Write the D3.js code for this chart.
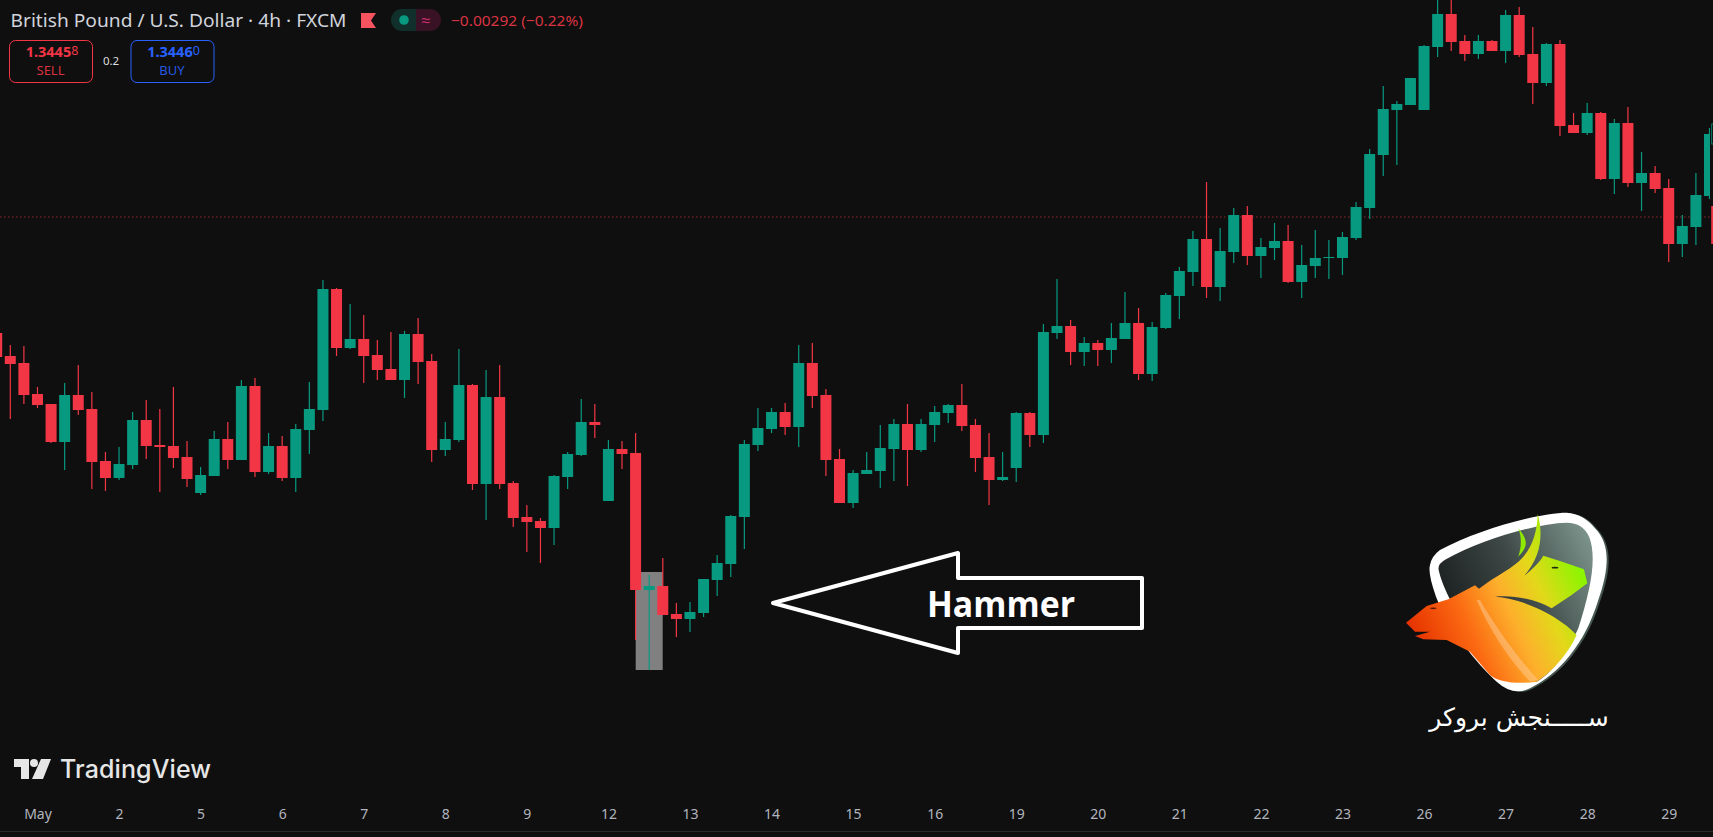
<!DOCTYPE html>
<html>
<head>
<meta charset="utf-8">
<style>
  html, body { margin: 0; padding: 0; background: #0f0f0f; overflow: hidden; }
  svg { display: block; }
  text { font-family: "Noto Sans", sans-serif; }
</style>
<script src="https://cdn.jsdelivr.net/npm/d3@7"></script>
</head>
<body>
<div id="chart"></div>
<script>
// GBP/USD 4h candles, left to right
const opens = [
  1.33638,1.33477,1.33428,1.33211,1.33141,1.32875,1.33204,1.33106,1.32742,1.32623,
  1.32714,1.33029,1.32854,1.32847,1.32770,1.32518,1.32637,1.32896,1.32749,1.33267,
  1.32665,1.32847,1.32623,1.32959,1.33099,1.33946,1.33533,1.33596,1.33484,1.33386,
  1.33309,1.33631,1.33442,1.32819,1.32889,1.33274,1.32581,1.33190,1.32588,1.32350,
  1.32322,1.32273,1.32630,1.32784,1.33015,1.32462,1.32826,1.32798,1.31839,1.31867,
  1.31671,1.31636,1.31678,1.31909,1.32021,1.32350,1.32854,1.32966,1.33085,1.32980,
  1.33428,1.33204,1.32756,1.32448,1.32651,1.32672,1.32826,1.33001,1.32819,1.32994,
  1.33078,1.33134,1.32994,1.32770,1.32609,1.32693,1.33078,1.32924,1.33638,1.33687,
  1.33505,1.33568,1.33519,1.33596,1.33708,1.33351,1.33673,1.33897,1.34065,1.34296,
  1.33960,1.34205,1.34464,1.34177,1.34233,1.34282,1.33995,1.34107,1.34163,1.34163,
  1.34303,1.34513,1.34884,1.35199,1.35234,1.35199,1.35640,1.35871,1.35682,1.35591,
  1.35682,1.35612,1.35864,1.35591,1.35388,1.35661,1.35094,1.35038,1.35178,1.34716,
  1.35108,1.34688,1.34758,1.34653,1.34261,1.34380,1.34597
];
const highs = [
  1.33680,1.33554,1.33547,1.33260,1.33141,1.33288,1.33414,1.33225,1.32805,1.32840,
  1.33085,1.33169,1.33106,1.33260,1.32882,1.32700,1.32952,1.33015,1.33309,1.33323,
  1.32938,1.32917,1.33001,1.33295,1.34009,1.33953,1.33841,1.33764,1.33589,1.33645,
  1.33652,1.33743,1.33491,1.33015,1.33526,1.33281,1.33379,1.33414,1.32602,1.32434,
  1.32343,1.32644,1.32805,1.33176,1.33141,1.32889,1.32882,1.32938,1.31944,1.32063,
  1.31748,1.31755,1.31916,1.32084,1.32364,1.32889,1.33113,1.33113,1.33148,1.33554,
  1.33568,1.33246,1.32826,1.32679,1.32805,1.32994,1.33036,1.33141,1.33036,1.33127,
  1.33141,1.33281,1.33036,1.32938,1.32805,1.33085,1.33085,1.33701,1.34016,1.33729,
  1.33610,1.33589,1.33708,1.33925,1.33813,1.33715,1.33918,1.34100,1.34352,1.34695,
  1.34373,1.34513,1.34527,1.34303,1.34408,1.34394,1.34254,1.34359,1.34289,1.34345,
  1.34555,1.34926,1.35367,1.35262,1.35423,1.35654,1.35990,1.35990,1.35724,1.35724,
  1.35689,1.35899,1.35920,1.35780,1.35668,1.35689,1.35178,1.35248,1.35185,1.35136,
  1.35220,1.34905,1.34807,1.34716,1.34464,1.34758,1.35073
];
const lows = [
  1.33450,1.33036,1.33141,1.33113,1.32868,1.32679,1.33064,1.32546,1.32532,1.32609,
  1.32686,1.32756,1.32525,1.32693,1.32560,1.32504,1.32637,1.32686,1.32749,1.32630,
  1.32651,1.32602,1.32525,1.32791,1.33022,1.33477,1.33526,1.33288,1.33309,1.33309,
  1.33183,1.33281,1.32735,1.32777,1.32875,1.32539,1.32329,1.32546,1.32280,1.32105,
  1.32028,1.32154,1.32546,1.32777,1.32903,1.32462,1.32686,1.31489,1.31279,1.31664,
  1.31510,1.31545,1.31650,1.31797,1.31930,1.32126,1.32812,1.32938,1.32924,1.32840,
  1.33113,1.32637,1.32448,1.32413,1.32651,1.32553,1.32602,1.32567,1.32805,1.32875,
  1.33008,1.32952,1.32665,1.32434,1.32602,1.32595,1.32840,1.32868,1.33596,1.33414,
  1.33407,1.33407,1.33428,1.33596,1.33309,1.33302,1.33666,1.33736,1.33967,1.33883,
  1.33862,1.34128,1.34114,1.34023,1.34149,1.33988,1.33883,1.34023,1.34016,1.34044,
  1.34289,1.34436,1.34737,1.34814,1.35234,1.35199,1.35570,1.35612,1.35542,1.35556,
  1.35612,1.35528,1.35570,1.35241,1.35367,1.35017,1.35038,1.35024,1.34709,1.34611,
  1.34660,1.34492,1.34618,1.34135,1.34170,1.34254,1.34576
];
const closes = [
  1.33470,1.33421,1.33204,1.33134,1.32875,1.33204,1.33099,1.32735,1.32623,1.32721,
  1.33029,1.32847,1.32840,1.32763,1.32616,1.32644,1.32896,1.32749,1.33267,1.32665,
  1.32847,1.32623,1.32966,1.33106,1.33946,1.33533,1.33596,1.33477,1.33379,1.33309,
  1.33631,1.33435,1.32819,1.32896,1.33274,1.32581,1.33190,1.32581,1.32343,1.32315,
  1.32273,1.32637,1.32791,1.33015,1.32994,1.32826,1.32791,1.31839,1.31867,1.31664,
  1.31636,1.31685,1.31916,1.32028,1.32357,1.32861,1.32973,1.33085,1.32980,1.33428,
  1.33197,1.32749,1.32448,1.32658,1.32679,1.32833,1.33001,1.32819,1.33001,1.33085,
  1.33134,1.32987,1.32763,1.32609,1.32630,1.33078,1.32924,1.33645,1.33687,1.33505,
  1.33568,1.33519,1.33603,1.33708,1.33351,1.33680,1.33904,1.34072,1.34296,1.33960,
  1.34212,1.34464,1.34177,1.34240,1.34282,1.33995,1.34114,1.34163,1.34170,1.34310,
  1.34520,1.34891,1.35206,1.35241,1.35423,1.35647,1.35871,1.35675,1.35591,1.35682,
  1.35612,1.35864,1.35584,1.35388,1.35661,1.35087,1.35038,1.35178,1.34716,1.35108,
  1.34688,1.34758,1.34646,1.34261,1.34387,1.34604,1.35031
];

const dayLabels = ['May','2','5','6','7','8','9','12','13','14','15','16','19','20','21','22','23','26','27','28','29'];
const barsPerDay = 6;
const firstDayBar = 3;

const lastPrice = 1.3445;
const hammerBar = 48;
const hammerBoxTop = 1.31965;      // top of the grey box, its bottom is the hammer low
const edgeRed = [1.34527, 1.34261]; // next candle, just showing at the right border
const edgeGreen = [1.35101, 1.34961];

const WIDTH = 1713;
const HEIGHT = 837;
const UP = '#089981';
const DOWN = '#f23645';
const BODY = 11;

const svg = d3.select('#chart').append('svg')
    .attr('width', WIDTH)
    .attr('height', HEIGHT)
    .style('background', '#0f0f0f');

// Scales
const xScale = d3.scaleLinear().domain([0, opens.length - 1]).range([-3.3, 1709.5]);
const yScale = d3.scaleLinear().domain([1.35969, 1.30110]).range([0, HEIGHT]);

svg.append('defs').append('clipPath').attr('id', 'plot')
    .append('rect').attr('width', 1710).attr('height', HEIGHT);

// Last price line
svg.append('line')
    .attr('x1', 0).attr('x2', WIDTH)
    .attr('y1', yScale(lastPrice)).attr('y2', yScale(lastPrice))
    .attr('stroke', DOWN)
    .attr('stroke-opacity', 0.6)
    .attr('stroke-dasharray', '1.5 2.5');

// Hammer highlight sits behind the candles
svg.append('rect')
    .attr('x', xScale(hammerBar) - 13.5)
    .attr('y', yScale(hammerBoxTop))
    .attr('width', 27)
    .attr('height', yScale(lows[hammerBar]) - yScale(hammerBoxTop))
    .attr('fill', '#808080');

// Candles
const candles = svg.append('g').attr('clip-path', 'url(#plot)')
    .selectAll('g')
    .data(opens.map((o, i) => ({ i, o, h: highs[i], l: lows[i], c: closes[i] })))
    .enter().append('g')
    .attr('fill', d => d.c >= d.o ? UP : DOWN);

candles.append('rect')
    .attr('x', d => xScale(d.i) - 0.6)
    .attr('y', d => yScale(d.h))
    .attr('width', 1.2)
    .attr('height', d => yScale(d.l) - yScale(d.h));

candles.append('rect')
    .attr('x', d => xScale(d.i) - BODY / 2)
    .attr('y', d => yScale(Math.max(d.o, d.c)))
    .attr('width', BODY)
    .attr('height', d => Math.max(1, Math.abs(yScale(d.o) - yScale(d.c))));

// Sliver of the next candle at the border
svg.append('rect')
    .attr('x', xScale(opens.length - 1) + 1.7)
    .attr('y', yScale(edgeRed[0]))
    .attr('width', 3)
    .attr('height', yScale(edgeRed[1]) - yScale(edgeRed[0]))
    .attr('fill', DOWN);
svg.append('rect')
    .attr('x', xScale(opens.length - 1) + 2.2)
    .attr('y', yScale(edgeGreen[0]))
    .attr('width', 4)
    .attr('height', yScale(edgeGreen[1]) - yScale(edgeGreen[0]))
    .attr('fill', 'none')
    .attr('stroke', UP)
    .attr('stroke-width', 0.8);

// Time axis
const axis = d3.axisBottom(xScale)
    .tickValues(dayLabels.map((_, k) => firstDayBar + k * barsPerDay))
    .tickFormat((_, k) => dayLabels[k])
    .tickSize(0);
const axisG = svg.append('g').attr('transform', 'translate(0,814)').call(axis);
axisG.select('.domain').remove();
axisG.selectAll('text')
    .attr('y', 0)
    .attr('dy', '0.35em')
    .attr('fill', '#b2b5be')
    .style('font-family', '"Noto Sans", sans-serif')
    .style('font-size', '14px');
svg.append('line')
    .attr('x1', 0).attr('x2', WIDTH).attr('y1', 831.5).attr('y2', 831.5)
    .attr('stroke', '#2a2a2a');

// Legend line
svg.append('text')
    .attr('x', 10.5).attr('y', 21).attr('dy', '0.35em')
    .attr('fill', '#d1d4dc')
    .attr('font-size', 18)
    .attr('textLength', 336)
    .attr('lengthAdjust', 'spacingAndGlyphs')
    .text('British Pound / U.S. Dollar · 4h · FXCM');
svg.append('path')
    .attr('d', 'M361 13H376L371 20.5L376 28H361Z')
    .attr('fill', '#f7525f');
svg.append('path')
    .attr('d', 'M416 9H402A11 11 0 0 0 402 31H416Z')
    .attr('fill', '#12302b');
svg.append('path')
    .attr('d', 'M416 9H430A11 11 0 0 1 430 31H416Z')
    .attr('fill', '#3a1226');
svg.append('circle')
    .attr('cx', 404).attr('cy', 20).attr('r', 4.8)
    .attr('fill', '#089981');
svg.append('text')
    .attr('x', 426).attr('y', 20).attr('dy', '0.35em')
    .attr('text-anchor', 'middle')
    .attr('fill', '#cc2f6b')
    .attr('font-size', 16)
    .text('≈');
svg.append('text')
    .attr('x', 451).attr('y', 21).attr('dy', '0.35em')
    .attr('fill', '#d93442')
    .attr('font-size', 15)
    .attr('textLength', 132)
    .attr('lengthAdjust', 'spacingAndGlyphs')
    .text('−0.00292 (−0.22%)');

// Sell and buy buttons
const buttons = [
    { x: 9, price: '1.3445', last: '8', label: 'SELL', color: '#f23645' },
    { x: 130.5, price: '1.3446', last: '0', label: 'BUY', color: '#2962ff' }
];
const button = svg.selectAll('.button').data(buttons).enter().append('g')
    .attr('class', 'button')
    .attr('transform', d => `translate(${d.x},40)`);
button.append('rect')
    .attr('x', 0.5).attr('y', 0.5)
    .attr('width', 83).attr('height', 42)
    .attr('rx', 6)
    .attr('fill', 'none')
    .attr('stroke', d => d.color);
const priceText = button.append('text')
    .attr('x', 43).attr('y', 12).attr('dy', '0.35em')
    .attr('text-anchor', 'middle')
    .attr('fill', d => d.color)
    .attr('font-size', 14.5)
    .attr('font-weight', 700)
    .text(d => d.price);
priceText.append('tspan')
    .attr('font-size', 12.5)
    .attr('font-weight', 400)
    .attr('dy', -2)
    .text(d => d.last);
button.append('text')
    .attr('x', 41.5).attr('y', 30).attr('dy', '0.35em')
    .attr('text-anchor', 'middle')
    .attr('fill', d => d.color)
    .attr('fill-opacity', 0.9)
    .attr('font-size', 13)
    .text(d => d.label);
svg.append('text')
    .attr('x', 111).attr('y', 61).attr('dy', '0.35em')
    .attr('text-anchor', 'middle')
    .attr('fill', '#dddddd')
    .attr('font-size', 11.5)
    .text('0.2');

// Hammer arrow
svg.append('path')
    .attr('d', 'M773 603L958 553V578H1142V628H958V653Z')
    .attr('fill', 'none')
    .attr('stroke', '#fff')
    .attr('stroke-width', 4)
    .attr('stroke-linejoin', 'round');
svg.append('text')
    .attr('x', 927).attr('y', 617)
    .attr('fill', '#fff')
    .attr('font-size', 35)
    .attr('font-weight', 700)
    .attr('textLength', 148)
    .attr('lengthAdjust', 'spacingAndGlyphs')
    .style('font-family', '"Open Sans", sans-serif')
    .text('Hammer');

// TradingView mark
const tvLogo = svg.append('g').attr('transform', 'translate(14,759)').attr('fill', '#e6e6e6');
tvLogo.append('path').attr('d', 'M0 0H15V20H7V8H0Z');
tvLogo.append('circle').attr('cx', 20).attr('cy', 4).attr('r', 4);
tvLogo.append('path').attr('d', 'M27 0H37L29 20H18Z');
svg.append('text')
    .attr('x', 60).attr('y', 778)
    .attr('fill', '#e6e6e6')
    .attr('font-size', 25)
    .attr('font-weight', 500)
    .attr('textLength', 151)
    .style('font-family', 'Inter, sans-serif')
    .text('TradingView');

// Broker logo, drawn in the coordinates of a 3x crop
const defs = svg.select('defs');
const shieldGrad = defs.append('linearGradient').attr('id', 'shield')
    .attr('x1', 0).attr('y1', 0.6).attr('x2', 1).attr('y2', 0.1);
shieldGrad.append('stop').attr('offset', 0).attr('stop-color', '#161a1a');
shieldGrad.append('stop').attr('offset', 0.5).attr('stop-color', '#3c4644');
shieldGrad.append('stop').attr('offset', 1).attr('stop-color', '#7d958d');
const animalGrad = defs.append('linearGradient').attr('id', 'animal')
    .attr('gradientUnits', 'userSpaceOnUse')
    .attr('x1', 110).attr('y1', 430).attr('x2', 600).attr('y2', 210);
[[0, '#e63200'], [0.3, '#fb6a12'], [0.55, '#fdb02c'], [0.75, '#e3d81a'], [1, '#8cf500']].forEach(s => {
    animalGrad.append('stop').attr('offset', s[0]).attr('stop-color', s[1]);
});

const logo = svg.append('g').attr('transform', 'translate(1380,500) scale(0.3333)');
const outerShield = 'M150 195Q143 220 168 290C205 385 290 490 350 545Q400 590 450 565C540 520 615 430 655 300C690 200 690 130 645 85Q612 42 560 38C480 38 295 88 180 150Q155 168 150 195Z';
logo.append('path').attr('d', outerShield).attr('fill', '#46574f').attr('transform', 'translate(6,2)');
logo.append('path').attr('d', outerShield).attr('fill', '#ffffff');
logo.append('path')
    .attr('d', 'M176 210Q172 192 198 178C300 120 470 70 560 68Q610 68 628 112C650 170 635 260 595 385C560 460 510 525 470 545C400 530 330 500 280 420C230 340 188 265 176 210Z')
    .attr('fill', 'url(#shield)');
logo.append('path')
    .attr('d', 'M78 368L140 318L205 298L285 256L297 266C350 225 400 205 430 170C460 135 472 90 473 42C490 100 485 170 432 228C460 205 480 185 490 167L540 183L612 208L622 250L575 285L515 325C470 300 410 285 345 290C430 295 540 350 590 405C560 470 510 520 470 545C420 552 360 550 330 525L270 455L200 420L130 418L105 408L150 395L105 395Z')
    .attr('fill', 'url(#animal)');
logo.append('path')
    .attr('d', 'M415 85C445 120 445 140 415 170C425 140 425 110 415 85Z')
    .attr('fill', '#8fe800');
logo.append('path')
    .attr('d', 'M300 300C340 370 410 470 475 540L450 545C380 470 330 390 290 300Z')
    .attr('fill', '#ffd0a0')
    .attr('fill-opacity', 0.45);
logo.append('ellipse').attr('cx', 525).attr('cy', 203).attr('rx', 10).attr('ry', 2.5).attr('fill', '#1b2a10');
logo.append('ellipse').attr('cx', 160).attr('cy', 325).attr('rx', 10).attr('ry', 2.5).attr('fill', '#5a1400');

svg.append('text')
    .attr('x', 1519).attr('y', 726)
    .attr('text-anchor', 'middle')
    .attr('direction', 'rtl')
    .attr('fill', '#ffffff')
    .attr('font-size', 25)
    .style('font-family', '"DejaVu Sans", sans-serif')
    .text('ســـــنجش بروکر');
</script>
</body>
</html>
